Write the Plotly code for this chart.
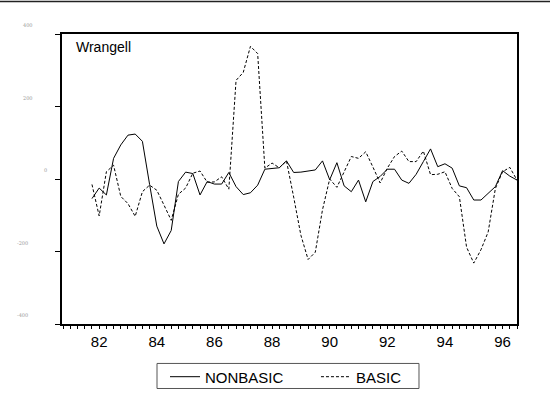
import plotly.graph_objects as go

# Quarterly observations, 1981Q4 .. 1996Q3 expressed as fractional years
start_year = 81.75
quarters = 60
x_vals = [start_year + 0.25 * i for i in range(quarters)]

nonbasic = [-54, -25, -44, 57, 94, 121, 124, 104, -15, -130,
            -179, -142, -7, 19, 15, -44, -7, -14, -14, 18,
            -21, -43, -38, -17, 27, 30, 31, 50, 18, 19,
            22, 25, 50, -2, 45, -19, -35, -3, -63, -7,
            7, 27, 27, -3, -12, 13, 48, 83, 34, 42,
            30, -19, -24, -58, -58, -40, -21, 23, 8, -3]

basic = [-15, -102, 20, 38, -48, -68, -103, -35, -17, -31,
         -72, -114, -42, -25, 16, 22, -9, -8, 6, -28,
         272, 294, 366, 346, 30, 44, 31, 50, -50, -155,
         -222, -202, -85, 0, -23, 20, 62, 57, 75, 33,
         -11, 30, 62, 77, 48, 48, 77, 12, 13, 20,
         -26, -49, -188, -232, -195, -146, -26, 20, 32, -3]

x_label_years = [82, 84, 86, 88, 90, 92, 94, 96]
x_label_text = ["82", "84", "86", "88", "90", "92", "94", "96"]
y_tick_vals = [400, 200, 0, -200, -400]
y_tick_text = ["400", "200", "0", "-200", "-400"]
series_names = ["NONBASIC", "BASIC"]
panel_title = "Wrangell"

fig = go.Figure()
fig.add_trace(go.Scatter(x=x_vals, y=nonbasic, mode="lines", name=series_names[0],
                         line=dict(color="black", width=1), legend="legend"))
fig.add_trace(go.Scatter(x=x_vals, y=basic, mode="lines", name=series_names[1],
                         line=dict(color="black", width=1, dash="3px,2px"), legend="legend2"))

# quarterly tick marks, labels only on even years
tick_vals = [80.75 + 0.25 * i for i in range(64)]
tick_text = []
for t in tick_vals:
    label = ""
    for yv, yt in zip(x_label_years, x_label_text):
        if abs(t - yv) < 1e-6:
            label = yt
    tick_text.append(label)

fig.update_xaxes(range=[80.71, 96.5], showgrid=False, zeroline=False,
                 showline=True, linecolor="black", linewidth=1.5, mirror=True,
                 ticks="outside", ticklen=3, tickwidth=1, tickcolor="black",
                 tickmode="array", tickvals=tick_vals, ticktext=tick_text,
                 tickfont=dict(family="Liberation Sans, Arial", size=15, color="black"))
fig.update_yaxes(range=[-400, 400], showgrid=False, zeroline=False,
                 showline=True, linecolor="black", linewidth=1.5, mirror=True,
                 ticks="outside", ticklen=5, tickwidth=1, tickcolor="black",
                 tickmode="array", tickvals=y_tick_vals, showticklabels=False)

label_x_px = {"400": 27.5, "200": 27.5, "0": 45, "-200": 22, "-400": 22}
plot_l, plot_w = 62, 455
for v, t in zip(y_tick_vals, y_tick_text):
    fig.add_annotation(x=(label_x_px[t] - plot_l) / plot_w, xref="paper", y=v, yref="y",
                       text=t, showarrow=False, xanchor="center", yanchor="middle",
                       yshift=9, font=dict(family="DejaVu Serif", size=5, color="#999999"))

fig.add_annotation(x=0.027, xref="paper", y=0.99, yref="paper", text=panel_title,
                   showarrow=False, xanchor="left", yanchor="top",
                   font=dict(family="Liberation Sans, Arial", size=14, color="black"))

# top border line of the page
fig.add_shape(type="line", xref="paper", yref="paper", x0=-0.14, x1=1.08,
              y0=1.112, y1=1.112, line=dict(color="#222222", width=1.5))

# legend frame
fig.add_shape(type="rect", xref="paper", yref="paper", x0=0.2088, x1=0.7846,
              y0=-0.2224, y1=-0.136, line=dict(color="#555555", width=1),
              fillcolor="rgba(0,0,0,0)")

legend_font = dict(family="Liberation Sans, Arial", size=15, color="black")
fig.update_layout(width=550, height=407, margin=dict(l=62, r=33, t=34, b=83),
                  paper_bgcolor="white", plot_bgcolor="white",
                  showlegend=True,
                  legend=dict(orientation="h", x=0.2264, xanchor="left",
                              y=-0.1257, yanchor="top", borderwidth=0,
                              bgcolor="rgba(0,0,0,0)", font=legend_font),
                  legend2=dict(orientation="h", x=0.5582, xanchor="left",
                               y=-0.1257, yanchor="top", borderwidth=0,
                               bgcolor="rgba(0,0,0,0)", font=legend_font))

fig.write_html("out.html", post_script="document.body.style.margin='0px';",
               config={"displayModeBar": False})
